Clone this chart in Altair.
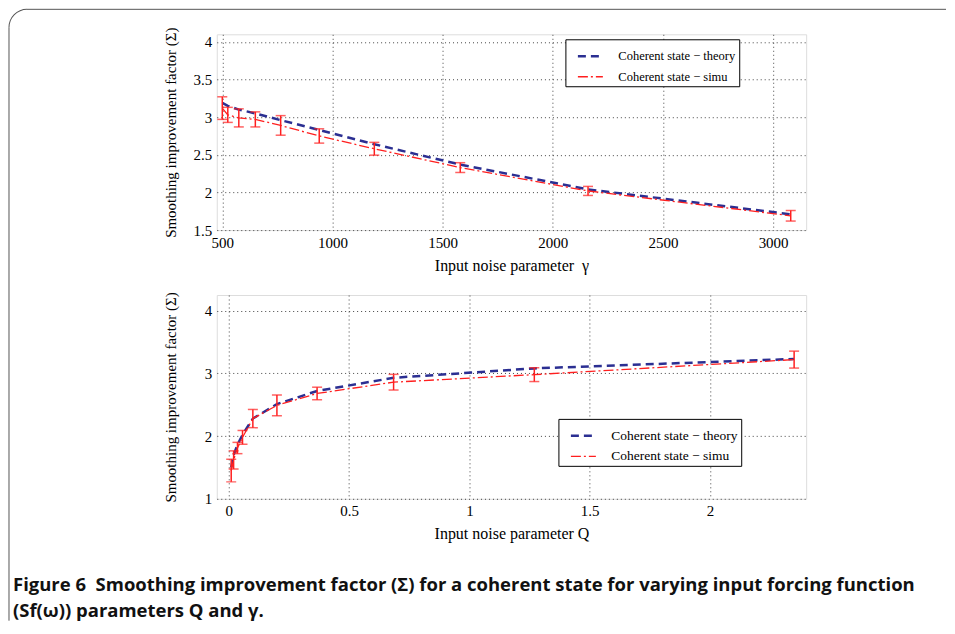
import altair as alt
import pandas as pd

# ---------------- data ----------------
SERIES = ["Coherent state − theory", "Coherent state − simu"]

# top panel: input noise parameter gamma
gamma = [500, 525, 575, 650, 765, 940, 1190, 1580, 2160, 3080]
gamma_theory = [3.19, 3.15, 3.10, 3.05, 2.96, 2.83, 2.64, 2.37, 2.04, 1.71]
gamma_simu = [3.12, 3.03, 2.99, 2.97, 2.89, 2.75, 2.58, 2.33, 2.02, 1.69]
gamma_err = [0.15, 0.10, 0.12, 0.10, 0.13, 0.095, 0.085, 0.065, 0.06, 0.07]

# bottom panel: input noise parameter Q
q = [0.01, 0.02, 0.036, 0.057, 0.10, 0.20, 0.367, 0.685, 1.27, 2.35]
q_theory = [1.50, 1.70, 1.86, 2.02, 2.28, 2.51, 2.72, 2.93, 3.08, 3.23]
q_simu = [1.45, 1.62, 1.81, 1.98, 2.28, 2.49, 2.68, 2.86, 2.98, 3.22]
q_err = [0.18, 0.145, 0.09, 0.11, 0.145, 0.165, 0.10, 0.125, 0.11, 0.135]

gamma_ticks = [500, 1000, 1500, 2000, 2500, 3000]
gamma_yticks = [1.5, 2.0, 2.5, 3.0, 3.5, 4.0]
q_ticks = [0, 0.5, 1, 1.5, 2]
q_yticks = [1, 2, 3, 4]

caption_text = ("Figure 6\u00a0 Smoothing improvement factor (Σ) for a coherent state for varying input forcing function\n"
                "(Sf(ω)) parameters Q and γ.")

# ---------------- styling ----------------
SERIF = "Liberation Serif"
NAVY = "#2b2f92"
RED = "#ff1f1f"
W = 590


def panel(xv, theory, simu, err, xdom, ydom, xticks, yticks, xtitle, h,
          lx, ly, lfs, ytp, symsize, npad):
    n = len(xv)
    lines_df = pd.DataFrame({
        "x": list(xv) * 2,
        "y": list(theory) + list(simu),
        "series": [SERIES[0]] * n + [SERIES[1]] * n,
        "o": list(range(n)) * 2,
    })
    err_df = pd.DataFrame({
        "x": xv,
        "lo": [s - e for s, e in zip(simu, err)],
        "hi": [s + e for s, e in zip(simu, err)],
    })
    cap_df = pd.DataFrame({
        "x": list(xv) * 2,
        "lo": list(err_df["lo"]) + list(err_df["hi"]),
    })

    xs = alt.Scale(domain=xdom, nice=False, zero=False)
    ys = alt.Scale(domain=ydom, nice=False, zero=False)
    xaxis = alt.Axis(values=xticks, format=".6~g", title=xtitle, grid=True,
                     gridDash=[1, 3], gridColor="#444", gridWidth=1,
                     ticks=False, domain=False, labelPadding=5,
                     labelOverlap=False,
                     labelFont=SERIF, labelFontSize=15, labelColor="black",
                     titleFont=SERIF, titleFontSize=16, titleFontWeight="normal",
                     titleColor="black", titlePadding=7, labelFlush=False)
    yaxis = alt.Axis(values=yticks, format=".6~g",
                     title="Smoothing improvement factor (Σ)", grid=True,
                     gridDash=[1, 3], gridColor="#444", gridWidth=1,
                     ticks=False, domain=False, labelPadding=5,
                     labelOverlap=False,
                     labelFont=SERIF, labelFontSize=15, labelColor="black",
                     titleFont=SERIF, titleFontSize=15, titleFontWeight="normal",
                     titleColor="black", titlePadding=ytp, labelFlush=False)
    leg = alt.Legend(orient="none", legendX=lx, legendY=ly, title=None,
                     symbolType="stroke", symbolSize=symsize, symbolStrokeWidth=2,
                     labelFont=SERIF, labelFontSize=lfs, labelColor="black",
                     labelLimit=400,
                     strokeColor="black", fillColor="white", padding=3,
                     rowPadding=0, symbolOffset=8, labelOffset=14,
                     labelExpr="datum.label + '" + "\u00a0" * npad + "'")

    X = alt.X("x:Q", scale=xs, axis=xaxis)
    lines = alt.Chart(lines_df).mark_line().encode(
        x=X,
        y=alt.Y("y:Q", scale=ys, axis=yaxis),
        order="o:Q",
        color=alt.Color("series:N", scale=alt.Scale(domain=SERIES, range=[NAVY, RED]), legend=leg),
        strokeDash=alt.StrokeDash("series:N", scale=alt.Scale(domain=SERIES, range=[[8, 5], [10, 3, 2, 3]]), legend=leg),
        strokeWidth=alt.StrokeWidth("series:N", scale=alt.Scale(domain=SERIES, range=[2.5, 1.3]), legend=None),
    )
    bars = alt.Chart(err_df).mark_rule(color=RED, strokeWidth=1.5).encode(
        x=X,
        y=alt.Y("lo:Q", scale=ys, axis=yaxis),
        y2="hi:Q",
    )
    caps = alt.Chart(cap_df).mark_tick(color=RED, orient="horizontal", size=10, thickness=1.5).encode(
        x=X,
        y=alt.Y("lo:Q", scale=ys, axis=yaxis),
    )
    return alt.layer(lines, bars, caps).properties(width=W, height=h)


top = panel(gamma, gamma_theory, gamma_simu, gamma_err, [475, 3150], [1.5, 4.1],
            gamma_ticks, gamma_yticks, "Input noise parameter\u00a0 γ", 196,
            349, 5, 12.5, 15, 625, 15)
bottom = panel(q, q_theory, q_simu, q_err, [-0.05, 2.4], [1, 4.25],
               q_ticks, q_yticks, "Input noise parameter Q", 204,
               342, 124, 13.5, 26, 625, 14)

# caption and surrounding frame
one = pd.DataFrame({"a": [0]})
FRAME = "#555555"
cap = alt.Chart(one).mark_text(align="left", baseline="middle", font="Open Sans",
                               fontSize=18.5, fontWeight="bold", lineBreak="\n",
                               lineHeight=26, color="#111").encode(
    x=alt.value(-204), y=alt.value(21), text=alt.value(caption_text))
frame_top = alt.Chart(one).mark_rule(color=FRAME, strokeWidth=1).encode(
    x=alt.value(-190), x2=alt.value(730), y=alt.value(-555))
frame_left = alt.Chart(one).mark_rule(color=FRAME, strokeWidth=1).encode(
    x=alt.value(-208), y=alt.value(-537), y2=alt.value(57))
frame_corner = alt.Chart(one).mark_arc(color=FRAME, radius=18.5, radius2=17.5).encode(
    x=alt.value(-190), y=alt.value(-537),
    theta=alt.value(4.71239), theta2=alt.value(6.28319))
caption = alt.layer(frame_top, frame_left, frame_corner, cap).properties(
    width=W, height=50, view=alt.ViewBackground(strokeOpacity=0))

chart = alt.vconcat(top, bottom, caption, spacing=65, bounds="flush").resolve_scale(
    color="independent", strokeDash="independent", strokeWidth="independent",
    x="independent", y="independent"
).resolve_legend(
    color="independent", strokeDash="independent", strokeWidth="independent"
).properties(
    padding=0
).configure_view(stroke="black", strokeWidth=1).configure(background="white")

chart.save("out.html", embed_options={"renderer": "svg", "actions": False})
